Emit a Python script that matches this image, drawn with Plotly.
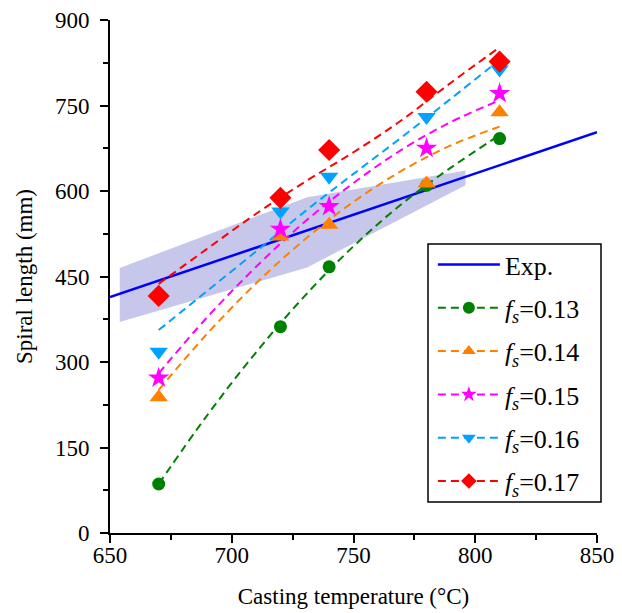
import plotly.graph_objects as go

# ---- data ----
temps = [670, 720, 740, 780, 810]
fs013 = [86, 362, 467, 610, 692]
fs014 = [238, 520, 541, 613, 738]
fs015 = [272, 533, 573, 675, 771]
fs016 = [318, 564, 625, 730, 813]
fs017 = [416, 588, 672, 774, 827]

curve_x = [670, 690, 710, 730, 750, 770, 790, 810]
curve013 = [86, 207, 317, 416, 503, 578, 641, 698]
curve014 = [251, 350, 438, 515, 581, 636, 680, 713]
curve015 = [280, 379, 467, 546, 614, 673, 721, 759]
curve016 = [356, 425, 494, 564, 630, 695, 762, 830]
curve017 = [437, 499, 560, 616, 668, 725, 790, 852]

exp_x = [650, 850]
exp_y = [414, 703]

band_x = [654, 731, 796]
band_upper = [465, 589, 636]
band_lower = [370, 466, 610]

x_ticks = [650, 700, 750, 800, 850]
x_minor = [675, 725, 775, 825]
y_ticks = [0, 150, 300, 450, 600, 750, 900]
y_minor = [75, 225, 375, 525, 675, 825]

labels = ["0.13", "0.14", "0.15", "0.16", "0.17"]
colors = ["#008000", "#FF8000", "#FF00FF", "#00A2FF", "#FF0000"]
symbols = ["circle", "triangle-up", "star", "triangle-down", "diamond"]
msizes = [13, 16, 16, 16, 17]

points = [fs013, fs014, fs015, fs016, fs017]
curves = [curve013, curve014, curve015, curve016, curve017]

FONT = "Liberation Serif"

fig = go.Figure()

# shaded band
fig.add_trace(go.Scatter(
    x=band_x + band_x[::-1], y=band_upper + band_lower[::-1],
    fill="toself", fillcolor="rgba(0,0,170,0.22)", line=dict(width=0),
    mode="lines", showlegend=False, hoverinfo="skip"))

# experimental line
fig.add_trace(go.Scatter(
    x=exp_x, y=exp_y, mode="lines", name="Exp.",
    line=dict(color="#0000FF", width=2.5), legendgroup="exp"))

# dashed curves
for lab, col, cv in zip(labels, colors, curves):
    fig.add_trace(go.Scatter(
        x=curve_x, y=cv, mode="lines", line=dict(color=col, width=2, dash="8px,5px", shape="spline"),
        showlegend=False, legendgroup=lab, hoverinfo="skip"))

# markers
for lab, col, sym, ms, pts in zip(labels, colors, symbols, msizes, points):
    fig.add_trace(go.Scatter(
        x=temps, y=pts, mode="markers",
        marker=dict(color=col, symbol=sym, size=ms, line=dict(width=0)),
        showlegend=False, legendgroup=lab))

# legend entries
for lab, col, sym in zip(labels, colors, symbols):
    fig.add_trace(go.Scatter(
        x=[None], y=[None], mode="lines+markers",
        name="<i>f</i><sub><i>s</i></sub>=" + lab,
        line=dict(color=col, width=2, dash="8px,5px"),
        marker=dict(color=col, symbol=sym, size=12),
        legendgroup=lab))

axis_common = dict(
    showline=True, linecolor="black", linewidth=2, mirror=False,
    ticks="outside", ticklen=8, tickwidth=2, tickcolor="black",
    showgrid=False, zeroline=False, automargin=False,
    tickfont=dict(family=FONT, size=23, color="black"),
    title_font=dict(family=FONT, size=23, color="black"),
)

fig.update_xaxes(range=[650, 850], tickvals=x_ticks,
                 minor=dict(ticks="outside", ticklen=5, tickwidth=2, tickcolor="black",
                            tickvals=x_minor),
                 title_text="Casting temperature (°C)", title_standoff=21,
                 ticklabelstandoff=-8, **axis_common)
fig.update_yaxes(range=[0, 900], tickvals=y_ticks,
                 minor=dict(ticks="outside", ticklen=5, tickwidth=2, tickcolor="black",
                            tickvals=y_minor),
                 title_text="Spiral length (mm)", title_standoff=16, ticklabelstandoff=6,
                 **axis_common)

# legend frame
fig.add_shape(type="rect", xref="paper", yref="paper",
              x0=0.653, x1=1.0082, y0=0.0604, y1=0.5634,
              line=dict(color="black", width=1.5), fillcolor="white", layer="below")

fig.update_layout(
    width=614, height=605,
    margin=dict(l=102, r=25, t=12, b=80, autoexpand=False),
    plot_bgcolor="white", paper_bgcolor="white",
    font=dict(family=FONT, size=23, color="black"),
    legend=dict(x=0.663, y=0.569, xanchor="left", yanchor="top",
                borderwidth=0, bgcolor="rgba(0,0,0,0)",
                font=dict(family=FONT, size=26, color="black"),
                itemwidth=62, tracegroupgap=6.5, traceorder="grouped"),
)

fig.write_html("out.html")
